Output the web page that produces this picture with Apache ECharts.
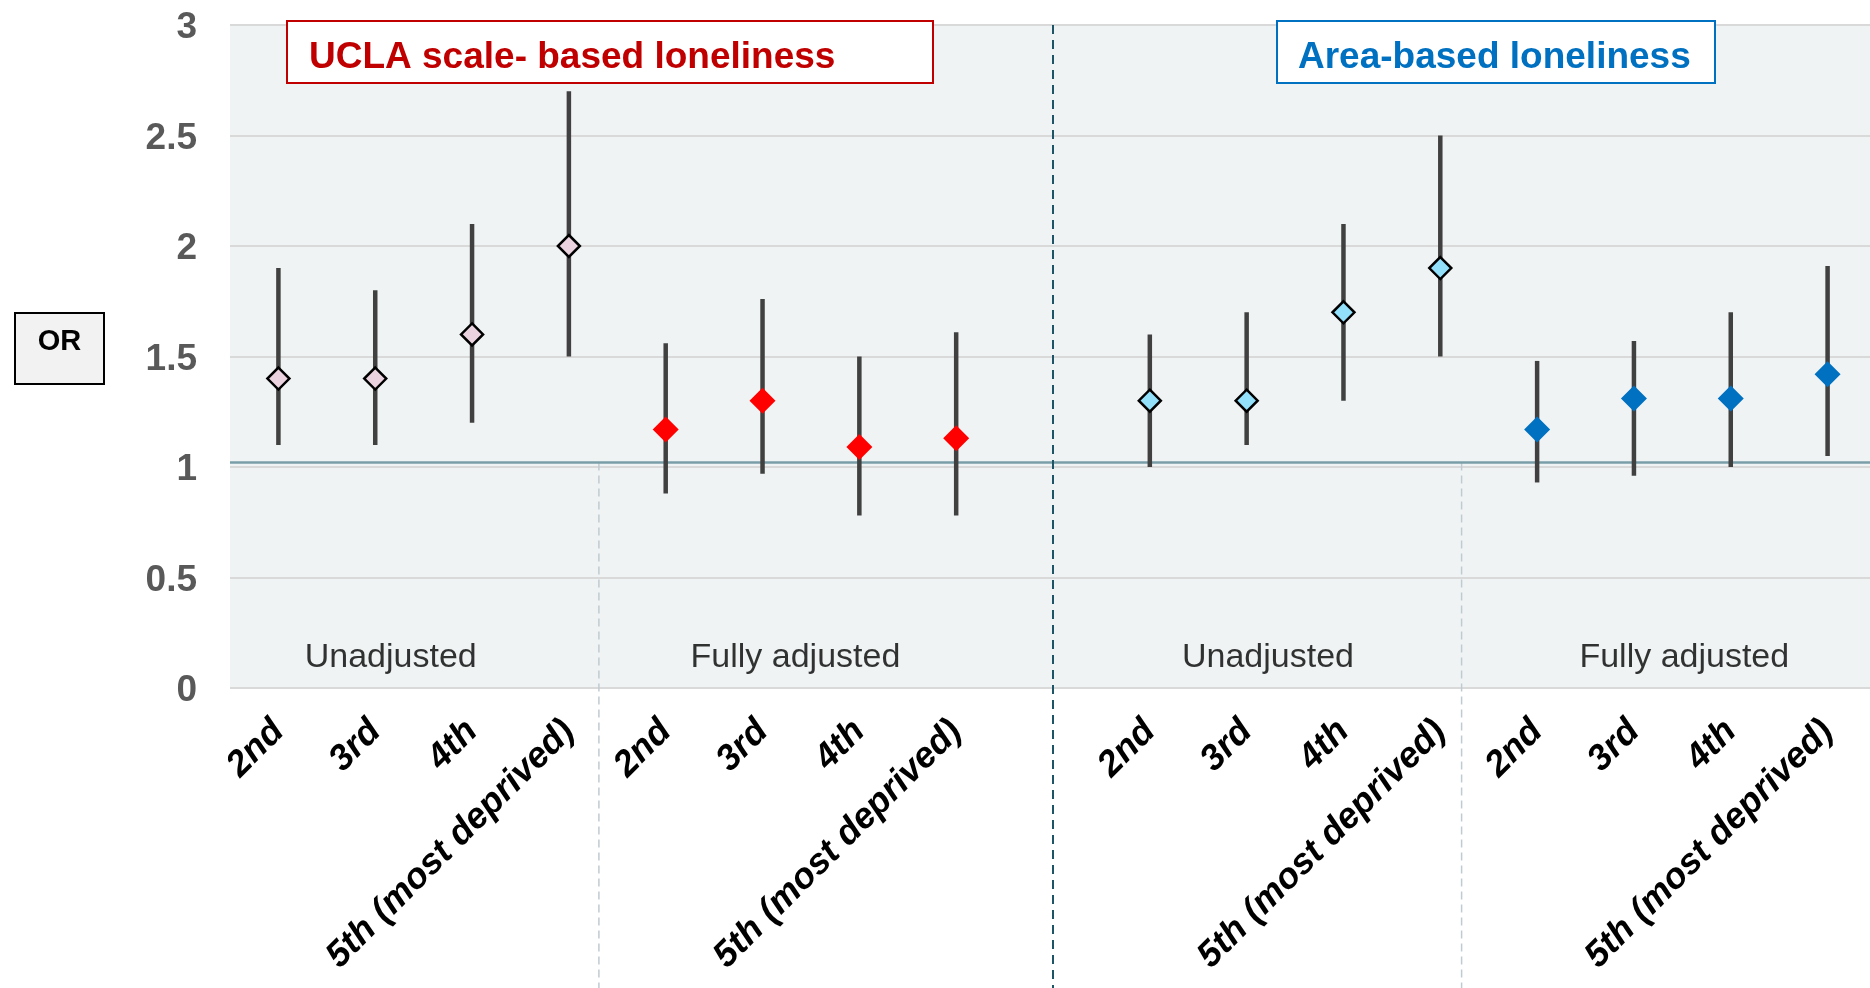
<!DOCTYPE html>
<html>
<head>
<meta charset="utf-8">
<script src="https://cdn.jsdelivr.net/npm/echarts@6/dist/echarts.min.js"></script>
<style>
html,body{margin:0;padding:0;background:#fff;}
#chart{width:1870px;height:988px;}
</style>
</head>
<body>
<div id="chart"></div>
<script>
// ---- data ----
const categories = ['2nd','3rd','4th','5th (most deprived)','2nd','3rd','4th','5th (most deprived)','',
                    '2nd','3rd','4th','5th (most deprived)','2nd','3rd','4th','5th (most deprived)'];
const yTicks = [0, 0.5, 1, 1.5, 2, 2.5, 3];

const uclaUnadjOR    = [1.40, 1.40, 1.60, 2.00];
const uclaUnadjLower = [1.10, 1.10, 1.20, 1.50];
const uclaUnadjUpper = [1.90, 1.80, 2.10, 2.70];

const uclaAdjOR    = [1.17, 1.30, 1.09, 1.13];
const uclaAdjLower = [0.88, 0.97, 0.78, 0.78];
const uclaAdjUpper = [1.56, 1.76, 1.50, 1.61];

const areaUnadjOR    = [1.30, 1.30, 1.70, 1.90];
const areaUnadjLower = [1.00, 1.10, 1.30, 1.50];
const areaUnadjUpper = [1.60, 1.70, 2.10, 2.50];

const areaAdjOR    = [1.17, 1.31, 1.31, 1.42];
const areaAdjLower = [0.93, 0.96, 1.00, 1.05];
const areaAdjUpper = [1.48, 1.57, 1.70, 1.91];

const groupNames = ['Unadjusted', 'Fully adjusted', 'Unadjusted', 'Fully adjusted'];
const panelTitles = ['UCLA scale- based loneliness', 'Area-based loneliness'];
const refLineValue = 1.02;
const yAxisName = 'OR';

// ---- layout / styling helpers ----
const groupLabelX = [1.16, 5.34, 10.22, 14.52]; // positions on hidden value axis
const groupLabelY = 0.137;
const lightSepX = [3.31, 12.22];
const FONT = '"Liberation Sans", Arial, sans-serif';

const groups = [
  {or: uclaUnadjOR, lo: uclaUnadjLower, hi: uclaUnadjUpper, fill: '#ead3df', border: '#000', bw: 2.5, size: 22},
  {or: uclaAdjOR,   lo: uclaAdjLower,   hi: uclaAdjUpper,   fill: '#ff0000', border: null,  bw: 0,   size: 26},
  {or: areaUnadjOR, lo: areaUnadjLower, hi: areaUnadjUpper, fill: '#92e0fa', border: '#000', bw: 2.5, size: 22},
  {or: areaAdjOR,   lo: areaAdjLower,   hi: areaAdjUpper,   fill: '#0070c0', border: null,  bw: 0,   size: 26}
];

// map categories to groups
const groupIdx = [];
let k = 0;
categories.forEach((c, i) => {
  if (c === '') return;
  groupIdx.push({cat: i, g: Math.floor(k / 4), j: k % 4});
  k++;
});

const errData = groupIdx.map(o => [o.cat, groups[o.g].lo[o.j], groups[o.g].hi[o.j]]);
const scatterSeries = groups.map((gr, gi) => ({
  type: 'scatter',
  xAxisIndex: 0, yAxisIndex: 0,
  symbol: 'diamond',
  symbolSize: gr.size,
  z: 5,
  itemStyle: {color: gr.fill, borderColor: gr.border || gr.fill, borderWidth: gr.bw, opacity: 1},
  data: groupIdx.filter(o => o.g === gi).map(o => [o.cat, gr.or[o.j]])
}));

const chart = echarts.init(document.getElementById('chart'), null, {renderer: 'canvas'});

const GRID = {left: 230, top: 25, width: 1646, height: 663};

chart.setOption({
  animation: false,
  backgroundColor: '#ffffff',
  textStyle: {fontFamily: FONT},
  grid: Object.assign({show: true, backgroundColor: '#f0f3f4', borderWidth: 0, containLabel: false, outerBoundsMode: 'none'}, GRID),
  xAxis: [
    {
      type: 'category',
      data: categories,
      boundaryGap: true,
      axisLine: {show: false},
      axisTick: {show: false},
      splitLine: {show: false},
      axisLabel: {
        interval: 0, rotate: 45, margin: 38,
        fontSize: 36, fontWeight: 'bold', fontStyle: 'italic',
        color: '#000', fontFamily: FONT
      }
    },
    {
      type: 'value', min: -0.5, max: 16.5, show: false
    }
  ],
  yAxis: {
    type: 'value', min: 0, max: 3, interval: 0.5,
    axisLine: {show: false},
    axisTick: {show: false},
    splitLine: {show: true, lineStyle: {color: '#d9d9d9', width: 2}},
    axisLabel: {
      margin: 33, color: '#595959', fontFamily: FONT,
      formatter: v => yTicks.includes(v) ? '{t|' + v + '}' : '',
      rich: {t: {fontSize: 37, fontWeight: 'bold', color: '#595959', fontFamily: FONT, padding: [6, 0, 0, 0]}}
    }
  },
  series: [
    {
      type: 'custom',
      xAxisIndex: 0, yAxisIndex: 0,
      z: 3,
      encode: {x: 0, y: [1, 2]},
      data: errData,
      renderItem: function (params, api) {
        const p1 = api.coord([api.value(0), api.value(1)]);
        const p2 = api.coord([api.value(0), api.value(2)]);
        return {
          type: 'line',
          shape: {x1: p1[0], y1: p1[1], x2: p2[0], y2: p2[1]},
          style: {stroke: '#404040', lineWidth: 4.5}
        };
      },
      markLine: {
        silent: true, symbol: 'none', z: 2,
        label: {show: false},
        lineStyle: {color: '#7a9ea8', width: 2.5, type: 'solid'},
        data: [{yAxis: refLineValue}]
      }
    },
    ...scatterSeries,
    {
      type: 'scatter',
      xAxisIndex: 1, yAxisIndex: 0,
      symbolSize: 0,
      silent: true,
      data: groupNames.map((n, i) => ({value: [groupLabelX[i], groupLabelY], name: n})),
      label: {
        show: true, position: 'inside', formatter: p => p.name,
        fontSize: 34, color: '#000', fontFamily: FONT
      }
    }
  ]
});

// separators and annotation boxes
const yTopPx = chart.convertToPixel({yAxisIndex: 0}, 3);
const yRefPx = chart.convertToPixel({yAxisIndex: 0}, refLineValue);
const mainSepX = chart.convertToPixel({xAxisIndex: 0}, categories.indexOf(''));
const graphics = [];
graphics.push({
  type: 'line', z: 10, silent: true,
  shape: {x1: mainSepX, y1: yTopPx, x2: mainSepX, y2: 988},
  style: {stroke: '#1d5566', lineWidth: 2, lineDash: [9, 6]}
});
lightSepX.forEach(v => {
  const x = chart.convertToPixel({xAxisIndex: 1}, v);
  graphics.push({
    type: 'line', z: 1, silent: true,
    shape: {x1: x, y1: yRefPx, x2: x, y2: 988},
    style: {stroke: '#bfcbd1', lineWidth: 1.5, lineDash: [8, 5]}
  });
});
// panel title boxes
const boxes = [
  {x: 286, w: 646, color: '#c00000', textX: 22},
  {x: 1276, w: 438, color: '#0070c0', textX: 21}
];
boxes.forEach((b, i) => {
  graphics.push({
    type: 'group', left: b.x, top: 20, z: 20,
    children: [
      {type: 'rect', shape: {x: 0, y: 0, width: b.w, height: 62},
       style: {fill: '#fff', stroke: b.color, lineWidth: 2}},
      {type: 'text', x: b.textX, y: 37,
       style: {text: panelTitles[i], fill: b.color, font: 'bold 37px ' + FONT, textVerticalAlign: 'middle', verticalAlign: 'middle'}}
    ]
  });
});
// OR box
graphics.push({
  type: 'group', left: 14, top: 312, z: 20,
  children: [
    {type: 'rect', shape: {x: 0, y: 0, width: 89, height: 71},
     style: {fill: '#f2f2f2', stroke: '#000', lineWidth: 2}},
    {type: 'text', x: 44.5, y: 29,
     style: {text: yAxisName, fill: '#000', font: 'bold 29px ' + FONT, align: 'center', verticalAlign: 'middle', textAlign: 'center', textVerticalAlign: 'middle'}}
  ]
});
chart.setOption({graphic: graphics});
</script>
</body>
</html>
